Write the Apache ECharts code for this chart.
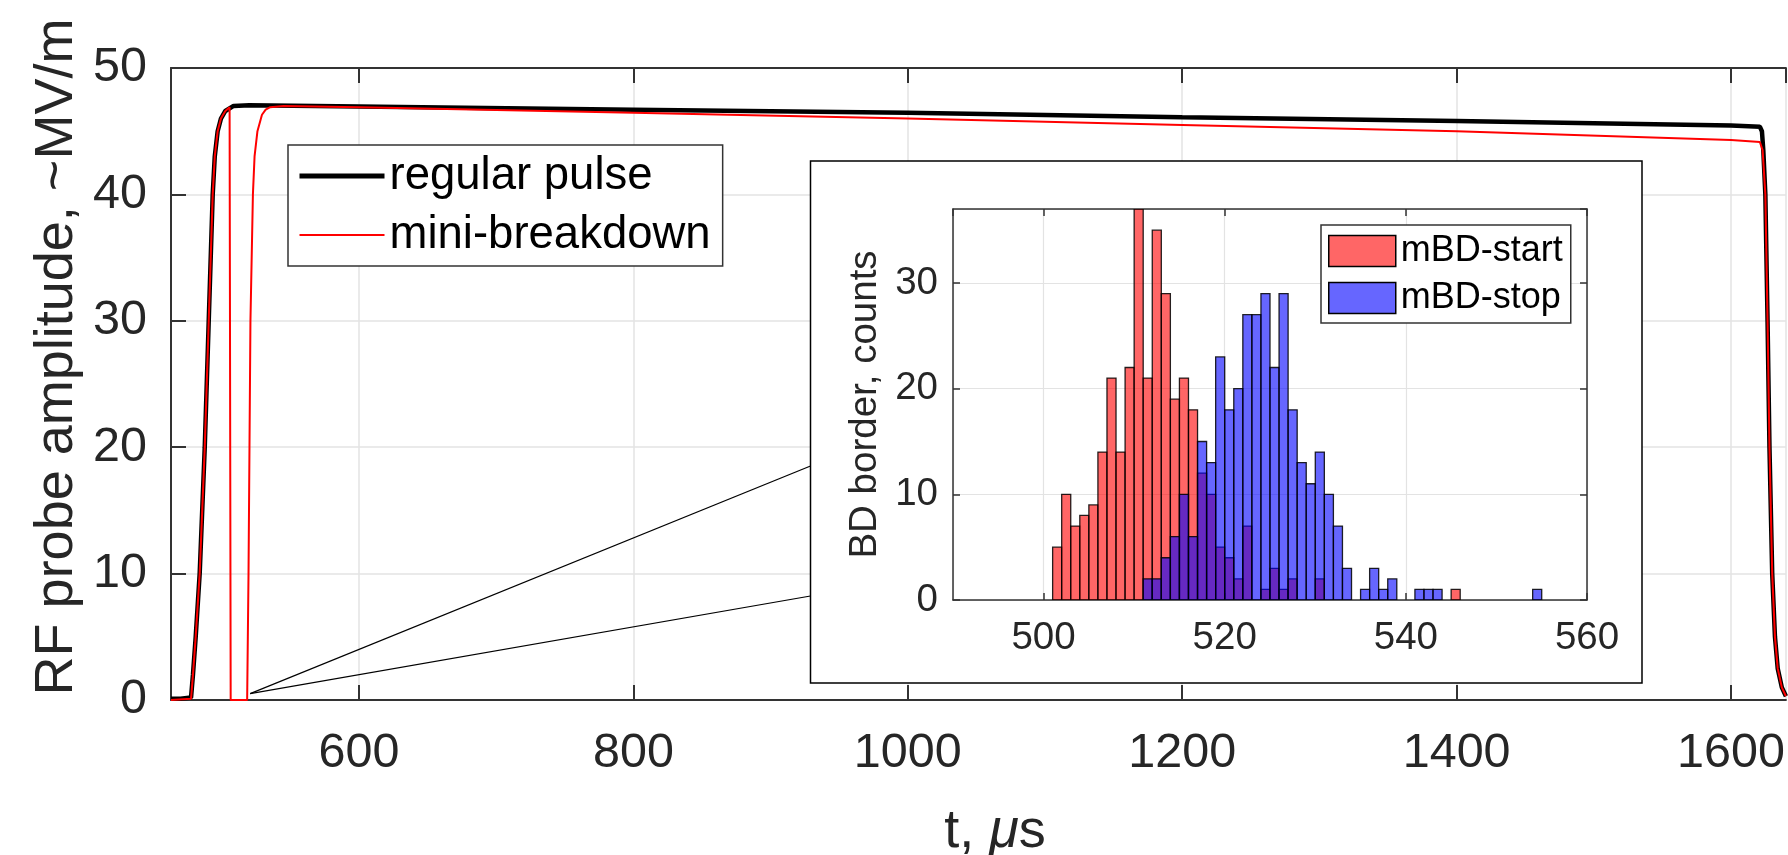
<!DOCTYPE html>
<html>
<head>
<meta charset="utf-8">
<script src="https://cdn.jsdelivr.net/npm/echarts@6/dist/echarts.min.js"></script>
<style>
html, body { margin: 0; padding: 0; background: #fff; }
#main { width: 1788px; height: 855px; }
</style>
</head>
<body>
<div id="main"></div>
<script>
// RF probe traces: t in us, amplitude in ~MV/m
var regularT = [463, 470, 477.6, 479, 481, 483.9, 487.6, 490.5, 493.4, 494.9, 497, 499.4, 502.6, 508.6, 520, 600, 800, 1000, 1200, 1400, 1600, 1621, 1622.5, 1623.5, 1625, 1626.6, 1628, 1630, 1632, 1634, 1637, 1640];
var regularV = [0.1, 0.1, 0.2, 2, 5, 10, 20, 30, 40, 43, 45, 46, 46.6, 47.0, 47.05, 46.95, 46.7, 46.45, 46.1, 45.8, 45.45, 45.35, 45.0, 43.5, 40, 30, 20, 10, 5, 2.5, 1, 0.3];
var miniT = [463, 477.6, 479, 481, 483.9, 487.6, 490.5, 493.4, 494.9, 497, 499.4, 502.6, 505.7, 506.5, 518.5, 519.5, 520.2, 520.9, 522.7, 523.9, 526, 529.3, 532, 535.3, 545, 600, 800, 1000, 1200, 1400, 1600, 1621, 1623, 1625, 1626.6, 1628, 1630, 1632, 1634, 1637, 1640];
var miniV = [0, 0.1, 2, 5, 10, 20, 30, 40, 43, 45, 46, 46.6, 46.9, 0, 0, 10, 20, 30, 40, 43, 45, 46.3, 46.7, 46.9, 47.0, 46.9, 46.45, 46.0, 45.5, 45.0, 44.3, 44.15, 43.5, 40, 30, 20, 10, 5, 2.5, 1, 0.3];

// inset histogram: left edge of each 1 us bin and counts
var binStart = [501, 502, 503, 504, 505, 506, 507, 508, 509, 510, 511, 512, 513, 514, 515, 516, 517, 518, 519, 520, 521, 522, 523, 524, 525, 526, 527, 528, 529, 530, 531, 532, 533, 534, 535, 536, 537, 538, 539, 540, 541, 542, 543, 544, 545, 546, 547, 548, 549, 550, 551, 552, 553, 554];
var startCounts = [5, 10, 7, 8, 9, 14, 21, 14, 22, 37, 21, 35, 29, 19, 21, 18, 12, 10, 5, 4, 2, 7, 0, 1, 3, 1, 2, 0, 0, 2, 0, 0, 0, 0, 0, 0, 0, 0, 0, 0, 0, 0, 0, 0, 1, 0, 0, 0, 0, 0, 0, 0, 0, 0];
var stopCounts = [0, 0, 0, 0, 0, 0, 0, 0, 0, 0, 2, 2, 4, 6, 10, 6, 15, 13, 23, 18, 20, 27, 27, 29, 22, 29, 18, 13, 11, 14, 10, 7, 3, 0, 1, 3, 1, 2, 0, 0, 1, 1, 1, 0, 0, 0, 0, 0, 0, 0, 0, 0, 0, 1];
var binWidth = 1;

// tick labels
var mainXTicks = [600, 800, 1000, 1200, 1400, 1600];
var mainYTicks = [0, 10, 20, 30, 40, 50];
var insetXTicks = [500, 520, 540, 560];
var insetYTicks = [0, 10, 20, 30];

var zoomFrom = [520.7, 0.5]; // point the inset lines come from

var FONT = '"Liberation Sans", Arial, Helvetica, sans-serif';
var AX = '#333333';
var TXT = '#262626';
var GRID = '#e3e3e3';

function pairs(xs, ys) {
    return xs.map(function (x, i) { return [x, ys[i]]; });
}

function onlyTicks(list) {
    return function (v) { return list.indexOf(v) >= 0 ? String(v) : ''; };
}

function histItem(fill) {
    return function (params, api) {
        var x0 = api.value(0), n = api.value(1);
        if (!n) return null;
        var a = api.coord([x0, n]);
        var b = api.coord([x0 + binWidth, 0]);
        return {
            type: 'rect',
            shape: {x: a[0], y: a[1], width: b[0] - a[0], height: b[1] - a[1]},
            style: {fill: fill, stroke: 'rgba(0,0,0,0.85)', lineWidth: 1.3}
        };
    };
}

var myChart = echarts.init(document.getElementById('main'));
var option = {
    animation: false,
    backgroundColor: '#fff',
    textStyle: {fontFamily: FONT},
    grid: [
        {left: 171, top: 68, right: 0, bottom: 155},
        {left: 953, top: 209, width: 634, height: 391}
    ],
    legend: [
        {
            left: 288, top: 145, orient: 'vertical',
            padding: [8, 12, 8, 9], itemGap: 13,
            itemWidth: 85, itemHeight: 2,
            backgroundColor: '#fff', borderColor: AX, borderWidth: 1.5,
            textStyle: {fontSize: 45.5, color: '#000', fontFamily: FONT},
            data: [
                {name: 'regular pulse', lineStyle: {width: 5, color: '#000'}, itemStyle: {opacity: 0, borderWidth: 0}},
                {name: 'mini-breakdown', lineStyle: {width: 2, color: '#ff0000'}, itemStyle: {opacity: 0, borderWidth: 0}}
            ]
        },
        {
            left: 1321, top: 225, orient: 'vertical', z: 25,
            padding: [8, 8, 7, 7], itemGap: 11,
            itemWidth: 67, itemHeight: 31,
            backgroundColor: '#fff', borderColor: AX, borderWidth: 1.5,
            textStyle: {fontSize: 36, color: '#000', fontFamily: FONT},
            data: [
                {name: 'mBD-start', icon: 'rect', itemStyle: {color: '#ff6666', borderColor: '#000', borderWidth: 1.5}},
                {name: 'mBD-stop', icon: 'rect', itemStyle: {color: '#6666ff', borderColor: '#000', borderWidth: 1.5}}
            ]
        }
    ],
    xAxis: [
        {
            type: 'value', gridIndex: 0, min: 463, max: 1640, splitNumber: 6,
            axisLine: {show: true, lineStyle: {color: AX, width: 2}},
            axisTick: {show: true, inside: true, length: 15, lineStyle: {color: AX, width: 2}},
            axisLabel: {fontSize: 48.5, color: TXT, margin: 29, fontFamily: FONT,
                showMinLabel: false, showMaxLabel: false, formatter: onlyTicks(mainXTicks)},
            splitLine: {show: true, lineStyle: {color: GRID, width: 1.5}}
        },
        {
            type: 'value', gridIndex: 0, position: 'top', min: 463, max: 1640, splitNumber: 6,
            axisLine: {show: true, lineStyle: {color: AX, width: 2}},
            axisTick: {show: true, inside: true, length: 15, lineStyle: {color: AX, width: 2}},
            axisLabel: {show: false},
            splitLine: {show: false}
        },
        {
            type: 'value', gridIndex: 1, min: 490, max: 560, splitNumber: 3, z: 20,
            axisLine: {show: true, onZero: false, lineStyle: {color: AX, width: 1.5}},
            axisTick: {show: true, inside: true, length: 7, lineStyle: {color: AX, width: 1.5}},
            axisLabel: {fontSize: 38.5, color: TXT, margin: 19, fontFamily: FONT,
                showMinLabel: false, formatter: onlyTicks(insetXTicks)},
            splitLine: {show: true, lineStyle: {color: GRID, width: 1.2}}
        },
        {
            type: 'value', gridIndex: 1, position: 'top', min: 490, max: 560, splitNumber: 3, z: 20,
            axisLine: {show: true, onZero: false, lineStyle: {color: AX, width: 1.5}},
            axisTick: {show: true, inside: true, length: 7, lineStyle: {color: AX, width: 1.5}},
            axisLabel: {show: false},
            splitLine: {show: false}
        }
    ],
    yAxis: [
        {
            type: 'value', gridIndex: 0, min: 0, max: 50, interval: 10,
            axisLine: {show: true, lineStyle: {color: AX, width: 2}},
            axisTick: {show: true, inside: true, length: 15, lineStyle: {color: AX, width: 2}},
            axisLabel: {fontSize: 48.5, color: TXT, margin: 24, fontFamily: FONT,
                padding: [12, 0, 0, 0], formatter: onlyTicks(mainYTicks)},
            splitLine: {show: true, lineStyle: {color: GRID, width: 1.5}}
        },
        {
            type: 'value', gridIndex: 1, min: 0, max: 37, interval: 10, z: 20,
            name: 'BD border, counts', nameLocation: 'middle', nameGap: 68,
            nameTextStyle: {fontSize: 38.5, color: TXT, fontFamily: FONT},
            axisLine: {show: true, onZero: false, lineStyle: {color: AX, width: 1.5}},
            axisTick: {show: true, inside: true, length: 7, lineStyle: {color: AX, width: 1.5}},
            axisLabel: {fontSize: 38.5, color: TXT, margin: 15, fontFamily: FONT,
                showMaxLabel: false, formatter: onlyTicks(insetYTicks)},
            splitLine: {show: true, lineStyle: {color: GRID, width: 1.2}}
        },
        {
            type: 'value', gridIndex: 1, position: 'right', min: 0, max: 37, interval: 10, z: 20,
            axisLine: {show: true, onZero: false, lineStyle: {color: AX, width: 1.5}},
            axisTick: {show: true, inside: true, length: 7, lineStyle: {color: AX, width: 1.5}},
            axisLabel: {show: false},
            splitLine: {show: false}
        }
    ],
    series: [
        {
            name: 'regular pulse', type: 'line', xAxisIndex: 0, yAxisIndex: 0,
            symbol: 'none', showSymbol: false,
            lineStyle: {color: '#000', width: 4.5},
            itemStyle: {color: '#000'},
            data: pairs(regularT, regularV)
        },
        {
            name: 'mini-breakdown', type: 'line', xAxisIndex: 0, yAxisIndex: 0,
            symbol: 'none', showSymbol: false,
            lineStyle: {color: '#ff0000', width: 2},
            itemStyle: {color: '#ff0000'},
            data: pairs(miniT, miniV)
        },
        {
            name: 'mBD-start', type: 'custom', xAxisIndex: 2, yAxisIndex: 1, z: 21, clip: true,
            itemStyle: {color: 'rgba(255,0,0,0.6)'},
            encode: {x: 0, y: 1},
            renderItem: histItem('rgba(255,0,0,0.6)'),
            data: pairs(binStart, startCounts)
        },
        {
            name: 'mBD-stop', type: 'custom', xAxisIndex: 2, yAxisIndex: 1, z: 21, clip: true,
            itemStyle: {color: 'rgba(0,0,255,0.6)'},
            encode: {x: 0, y: 1},
            renderItem: histItem('rgba(0,0,255,0.6)'),
            data: pairs(binStart, stopCounts)
        }
    ]
};
myChart.setOption(option);

// inset frame, zoom lines and axis titles of the main plot
var p = myChart.convertToPixel({xAxisIndex: 0, yAxisIndex: 0}, zoomFrom);
myChart.setOption({
    graphic: [
        {
            type: 'rect', z: 10, silent: true,
            shape: {x: 810.5, y: 161, width: 831.5, height: 522},
            style: {fill: '#fff', stroke: '#000', lineWidth: 1.5}
        },
        {
            type: 'line', z: 10, silent: true,
            shape: {x1: p[0], y1: p[1], x2: 810.5, y2: 466},
            style: {stroke: '#000', lineWidth: 1.2}
        },
        {
            type: 'line', z: 10, silent: true,
            shape: {x1: p[0], y1: p[1], x2: 810.5, y2: 596},
            style: {stroke: '#000', lineWidth: 1.2}
        },
        {
            type: 'text', z: 10, silent: true, x: 57, y: 357, rotation: Math.PI / 2,
            style: {
                text: 'RF probe amplitude, ~MV/m',
                align: 'center', verticalAlign: 'middle',
                fontSize: 54, fontFamily: FONT, fill: TXT
            }
        },
        {
            type: 'text', z: 10, silent: true, x: 995, y: 832,
            style: {
                text: '{a|t, }{b|μ}{a|s}',
                align: 'center', verticalAlign: 'middle',
                rich: {
                    a: {fontSize: 54, fontFamily: FONT, fill: TXT},
                    b: {fontSize: 54, fontFamily: FONT, fontStyle: 'italic', fill: TXT}
                }
            }
        }
    ]
});
window.onresize = myChart.resize;
</script>
</body>
</html>
